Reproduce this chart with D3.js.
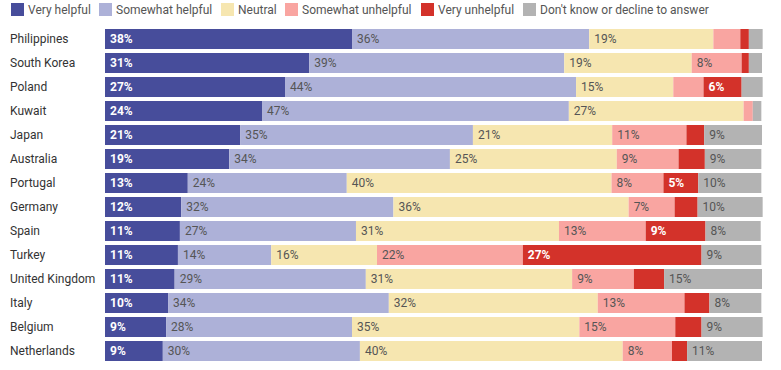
<!DOCTYPE html>
<html>
<head>
<meta charset="utf-8">
<script src="https://cdn.jsdelivr.net/npm/d3@7"></script>
<style>
  html, body { margin: 0; padding: 0; background: #fff; }
  svg { display: block; font-family: Roboto, "Noto Sans", sans-serif; }
</style>
</head>
<body>
<svg id="chart" width="781" height="370"></svg>
<script>
// categories (top to bottom)
const countries = ["Philippines", "South Korea", "Poland", "Kuwait", "Japan", "Australia", "Portugal",
  "Germany", "Spain", "Turkey", "United Kingdom", "Italy", "Belgium", "Netherlands"];

// answer categories, in stacking order
const answers = ["Very helpful", "Somewhat helpful", "Neutral", "Somewhat unhelpful", "Very unhelpful",
  "Don't know or decline to answer"];

// shares in %
const veryHelpful       = [37.6, 31.1, 27.4, 23.9, 20.6, 18.9, 12.6, 11.6, 11.4, 11.1, 10.6, 9.6, 9.3, 8.8];
const somewhatHelpful   = [36.1, 38.8, 44.3, 46.7, 35.4, 33.6, 24.2, 32.3, 26.8, 14.2, 29.1, 33.6, 28.3, 30.0];
const neutral           = [18.9, 19.4, 14.8, 26.6, 21.2, 25.4, 40.3, 35.8, 30.9, 16.1, 31.4, 31.8, 34.6, 40.0];
const somewhatUnhelpful = [4.1, 7.6, 4.6, 1.4, 11.3, 9.4, 7.9, 7.0, 13.2, 22.2, 9.4, 13.2, 14.6, 7.5];
const veryUnhelpful     = [1.3, 1.1, 5.8, 0, 2.7, 4.0, 5.3, 3.5, 9.1, 27.2, 4.6, 3.8, 4.0, 2.3];
const dontKnow          = [2.1, 2.0, 3.2, 1.3, 8.8, 8.6, 9.6, 9.9, 8.4, 9.1, 14.9, 7.9, 9.3, 11.4];

const series = [veryHelpful, somewhatHelpful, neutral, somewhatUnhelpful, veryUnhelpful, dontKnow];
const colors = ["#474d9b", "#adb1d8", "#f6e6b0", "#f9a5a1", "#d3322a", "#b3b3b3"];
const boldWhite = [true, false, false, false, true, false];

const svg = d3.select("#chart");

const rows = countries.map((c, i) => {
  const r = { country: c };
  answers.forEach((a, k) => r[a] = series[k][i]);
  return r;
});

const stacked = d3.stack().keys(answers)(rows);

const x = d3.scaleLinear().domain([0, 100]).range([105, 762]);
const y = d3.scaleBand().domain(countries).range([27, 363]).paddingInner(1 / 6).paddingOuter(1 / 12);
const color = d3.scaleOrdinal().domain(answers).range(colors);

// legend
const legend = svg.append("g").attr("class", "legend");
const legendX = [11, 99, 221, 285, 421, 523];
answers.forEach((a, i) => {
  const g = legend.append("g").attr("transform", `translate(${legendX[i]},3)`);
  g.append("rect").attr("width", 13).attr("height", 13).attr("fill", color(a));
  g.append("text")
    .attr("x", 17).attr("y", 6.5).attr("dy", "0.35em")
    .attr("font-size", "12px").attr("fill", "#555")
    .text(a);
});

// country labels
svg.append("g").selectAll("text")
  .data(countries)
  .join("text")
  .attr("x", 10)
  .attr("y", d => y(d) + y.bandwidth() / 2)
  .attr("dy", "0.35em")
  .attr("font-size", "12px")
  .attr("fill", "#333")
  .text(d => d);

// bars
const layer = svg.append("g").selectAll("g")
  .data(stacked)
  .join("g")
  .attr("fill", d => color(d.key));

layer.selectAll("rect")
  .data(d => d)
  .join("rect")
  .attr("x", d => x(d[0]))
  .attr("y", d => y(d.data.country))
  .attr("width", d => Math.max(0, x(d[1]) - x(d[0])))
  .attr("height", y.bandwidth());

// value labels
svg.append("g").selectAll("g")
  .data(stacked)
  .join("g")
  .each(function(s) {
    const bold = boldWhite[s.index];
    d3.select(this).selectAll("text")
      .data(s.filter(d => d[1] - d[0] >= 5))
      .join("text")
      .attr("x", d => x(d[0]) + 5)
      .attr("y", d => y(d.data.country) + y.bandwidth() / 2)
      .attr("dy", "0.35em")
      .attr("font-size", "12px")
      .attr("font-weight", bold ? "700" : "400")
      .attr("fill", bold ? "#fff" : "#555")
      .text(d => Math.round(d[1] - d[0]) + "%");
  });
</script>
</body>
</html>
